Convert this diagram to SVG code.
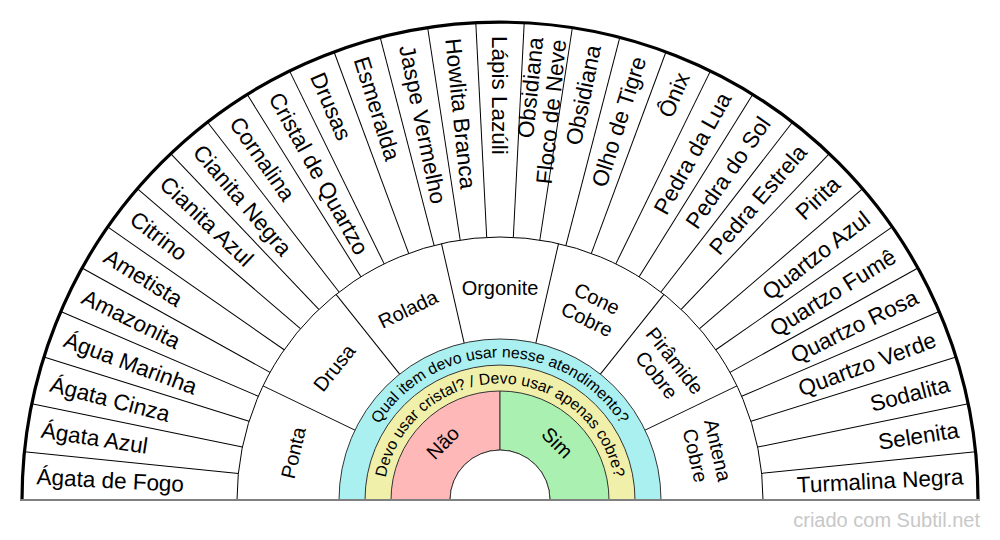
<svg xmlns="http://www.w3.org/2000/svg" width="1000" height="540" viewBox="0 0 1000 540">
<style>
text{font-family:"Liberation Sans",Arial,sans-serif;fill:#000}
.o{font-size:22.5px}
.m{font-size:20px;text-anchor:middle}
.r{font-size:15.8px}
.div{stroke:#000;stroke-width:1;fill:none}
.ring{stroke:#333;stroke-width:1}
</style>
<defs>
<line id="ol" x1="22" y1="500" x2="237" y2="500"/>
<line id="ml" x1="237" y1="500" x2="339" y2="500"/>
<path id="pb" d="M357.3 500A142.7 142.7 0 0 1 642.7 500"/>
<path id="py" d="M383.5 500A116.5 116.5 0 0 1 616.5 500"/>
</defs>
<rect width="1000" height="540" fill="#fff"/>
<path d="M22 500A478 478 0 0 1 978 500Z" fill="#fff"/>
<g id="connectors" class="div">
<use href="#ol" transform="rotate(5.80645 500 500)"/>
<use href="#ol" transform="rotate(11.6129 500 500)"/>
<use href="#ol" transform="rotate(17.41935 500 500)"/>
<use href="#ol" transform="rotate(23.2258 500 500)"/>
<use href="#ol" transform="rotate(29.03226 500 500)"/>
<use href="#ol" transform="rotate(34.83871 500 500)"/>
<use href="#ol" transform="rotate(40.64516 500 500)"/>
<use href="#ol" transform="rotate(46.45161 500 500)"/>
<use href="#ol" transform="rotate(52.25806 500 500)"/>
<use href="#ol" transform="rotate(58.06452 500 500)"/>
<use href="#ol" transform="rotate(63.87097 500 500)"/>
<use href="#ol" transform="rotate(69.67742 500 500)"/>
<use href="#ol" transform="rotate(75.48387 500 500)"/>
<use href="#ol" transform="rotate(81.29032 500 500)"/>
<use href="#ol" transform="rotate(87.09677 500 500)"/>
<use href="#ol" transform="rotate(92.90323 500 500)"/>
<use href="#ol" transform="rotate(98.70968 500 500)"/>
<use href="#ol" transform="rotate(104.51613 500 500)"/>
<use href="#ol" transform="rotate(110.32258 500 500)"/>
<use href="#ol" transform="rotate(116.12903 500 500)"/>
<use href="#ol" transform="rotate(121.93548 500 500)"/>
<use href="#ol" transform="rotate(127.74194 500 500)"/>
<use href="#ol" transform="rotate(133.54839 500 500)"/>
<use href="#ol" transform="rotate(139.35484 500 500)"/>
<use href="#ol" transform="rotate(145.16129 500 500)"/>
<use href="#ol" transform="rotate(150.96774 500 500)"/>
<use href="#ol" transform="rotate(156.77419 500 500)"/>
<use href="#ol" transform="rotate(162.58065 500 500)"/>
<use href="#ol" transform="rotate(168.3871 500 500)"/>
<use href="#ol" transform="rotate(174.19355 500 500)"/>
<use href="#ml" transform="rotate(25.71429 500 500)"/>
<use href="#ml" transform="rotate(51.42857 500 500)"/>
<use href="#ml" transform="rotate(77.14286 500 500)"/>
<use href="#ml" transform="rotate(102.85714 500 500)"/>
<use href="#ml" transform="rotate(128.57143 500 500)"/>
<use href="#ml" transform="rotate(154.28571 500 500)"/>
<path d="M237 500A263 263 0 0 1 763 500"/>
</g>
<path d="M22 500A478 478 0 0 1 978 500" fill="none" stroke="#000" stroke-width="3.2"/>
<g id="outer-ring" class="o">
<g id="n-agata-de-fogo"><text x="36" y="500" dy="0.35em" transform="rotate(2.90323 500 500)">Ágata de Fogo</text></g>
<g id="n-agata-azul"><text x="36" y="500" dy="0.35em" transform="rotate(8.70968 500 500)">Ágata Azul</text></g>
<g id="n-agata-cinza"><text x="36" y="500" dy="0.35em" transform="rotate(14.51613 500 500)">Ágata Cinza</text></g>
<g id="n-agua-marinha"><text x="36" y="500" dy="0.35em" transform="rotate(20.32258 500 500)">Água Marinha</text></g>
<g id="n-amazonita"><text x="36" y="500" dy="0.35em" transform="rotate(26.12903 500 500)">Amazonita</text></g>
<g id="n-ametista"><text x="36" y="500" dy="0.35em" transform="rotate(31.93548 500 500)">Ametista</text></g>
<g id="n-citrino"><text x="36" y="500" dy="0.35em" transform="rotate(37.74194 500 500)">Citrino</text></g>
<g id="n-cianita-azul"><text x="36" y="500" dy="0.35em" transform="rotate(43.54839 500 500)">Cianita Azul</text></g>
<g id="n-cianita-negra"><text x="36" y="500" dy="0.35em" transform="rotate(49.35484 500 500)">Cianita Negra</text></g>
<g id="n-cornalina"><text x="36" y="500" dy="0.35em" transform="rotate(55.16129 500 500)">Cornalina</text></g>
<g id="n-cristal-de-quartzo"><text x="36" y="500" dy="0.35em" transform="rotate(60.96774 500 500)">Cristal de Quartzo</text></g>
<g id="n-drusas"><text x="36" y="500" dy="0.35em" transform="rotate(66.77419 500 500)">Drusas</text></g>
<g id="n-esmeralda"><text x="36" y="500" dy="0.35em" transform="rotate(72.58065 500 500)">Esmeralda</text></g>
<g id="n-jaspe-vermelho"><text x="36" y="500" dy="0.35em" transform="rotate(78.3871 500 500)">Jaspe Vermelho</text></g>
<g id="n-howlita-branca"><text x="36" y="500" dy="0.35em" transform="rotate(84.19355 500 500)">Howlita Branca</text></g>
<g id="n-lapis-lazuli"><text x="36" y="500" dy="0.35em" transform="rotate(90 500 500)">Lápis Lazúli</text></g>
<g id="n-obsidiana-floco" text-anchor="end" transform="rotate(-84.19355 500 500)"><text x="964" y="488.5" dy="0.35em">Obsidiana</text><text x="964" y="511.5" dy="0.35em">Floco de Neve</text></g>
<g id="n-obsidiana" text-anchor="end"><text x="964" y="500" dy="0.35em" transform="rotate(-78.3871 500 500)">Obsidiana</text></g>
<g id="n-olho-de-tigre" text-anchor="end"><text x="964" y="500" dy="0.35em" transform="rotate(-72.58065 500 500)">Olho de Tigre</text></g>
<g id="n-onix" text-anchor="end"><text x="964" y="500" dy="0.35em" transform="rotate(-66.77419 500 500)">Ônix</text></g>
<g id="n-pedra-da-lua" text-anchor="end"><text x="964" y="500" dy="0.35em" transform="rotate(-60.96774 500 500)">Pedra da Lua</text></g>
<g id="n-pedra-do-sol" text-anchor="end"><text x="964" y="500" dy="0.35em" transform="rotate(-55.16129 500 500)">Pedra do Sol</text></g>
<g id="n-pedra-estrela" text-anchor="end"><text x="964" y="500" dy="0.35em" transform="rotate(-49.35484 500 500)">Pedra Estrela</text></g>
<g id="n-pirita" text-anchor="end"><text x="964" y="500" dy="0.35em" transform="rotate(-43.54839 500 500)">Pirita</text></g>
<g id="n-quartzo-azul" text-anchor="end"><text x="964" y="500" dy="0.35em" transform="rotate(-37.74194 500 500)">Quartzo Azul</text></g>
<g id="n-quartzo-fume" text-anchor="end"><text x="964" y="500" dy="0.35em" transform="rotate(-31.93548 500 500)">Quartzo Fumê</text></g>
<g id="n-quartzo-rosa" text-anchor="end"><text x="964" y="500" dy="0.35em" transform="rotate(-26.12903 500 500)">Quartzo Rosa</text></g>
<g id="n-quartzo-verde" text-anchor="end"><text x="964" y="500" dy="0.35em" transform="rotate(-20.32258 500 500)">Quartzo Verde</text></g>
<g id="n-sodalita" text-anchor="end"><text x="964" y="500" dy="0.35em" transform="rotate(-14.51613 500 500)">Sodalita</text></g>
<g id="n-selenita" text-anchor="end"><text x="964" y="500" dy="0.35em" transform="rotate(-8.70968 500 500)">Selenita</text></g>
<g id="n-turmalina-negra" text-anchor="end"><text x="964" y="500" dy="0.35em" transform="rotate(-2.90323 500 500)">Turmalina Negra</text></g>
</g>
<g id="middle-ring" class="m">
<g id="n-ponta" transform="rotate(-77.14286 500 500)"><text x="500" y="288" dy="0.35em">Ponta</text></g>
<g id="n-drusa" transform="rotate(-51.42857 500 500)"><text x="500" y="288" dy="0.35em">Drusa</text></g>
<g id="n-rolada" transform="rotate(-25.71429 500 500)"><text x="500" y="288" dy="0.35em">Rolada</text></g>
<g id="n-orgonite"><text x="500" y="288" dy="0.35em">Orgonite</text></g>
<g id="n-cone-cobre" transform="rotate(25.71429 500 500)"><text x="500" y="276.5" dy="0.35em">Cone</text><text x="500" y="299.5" dy="0.35em">Cobre</text></g>
<g id="n-piramide-cobre" transform="rotate(51.42857 500 500)"><text x="500" y="276.5" dy="0.35em">Pirâmide</text><text x="500" y="299.5" dy="0.35em">Cobre</text></g>
<g id="n-antena-cobre" transform="rotate(77.14286 500 500)"><text x="500" y="276.5" dy="0.35em">Antena</text><text x="500" y="299.5" dy="0.35em">Cobre</text></g>
</g>
<g id="n-pergunta-1">
<path class="ring" d="M339 500A161 161 0 0 1 661 500Z" fill="#aaf0f0"/>
<text class="r" text-anchor="middle"><textPath href="#pb" startOffset="50%">Qual item devo usar nesse atendimento?</textPath></text>
</g>
<g id="n-pergunta-2">
<path class="ring" d="M365 500A135 135 0 0 1 635 500Z" fill="#f0f0aa"/>
<text class="r" text-anchor="middle"><textPath href="#py" startOffset="50%">Devo usar cristal? / Devo usar apenas cobre?</textPath></text>
</g>
<g id="n-nao">
<path class="ring" d="M391 500A109 109 0 0 1 500 391L500 450A50 50 0 0 0 450 500Z" fill="#ffb8b8"/>
<text class="m" x="500" y="419" dy="0.35em" transform="rotate(-45 500 500)">Não</text>
</g>
<g id="n-sim">
<path class="ring" d="M500 391A109 109 0 0 1 609 500L550 500A50 50 0 0 0 500 450Z" fill="#aaf0b0"/>
<text class="m" x="500" y="419" dy="0.35em" transform="rotate(45 500 500)">Sim</text>
</g>
<path class="ring" d="M450 500A50 50 0 0 1 550 500Z" fill="#fff"/>
<line x1="20" y1="500" x2="980" y2="500" stroke="#808080" stroke-width="2"/>
<text x="980" y="527" text-anchor="end" font-size="20" style="fill:#c8c8c8">criado com Subtil.net</text>
</svg>
